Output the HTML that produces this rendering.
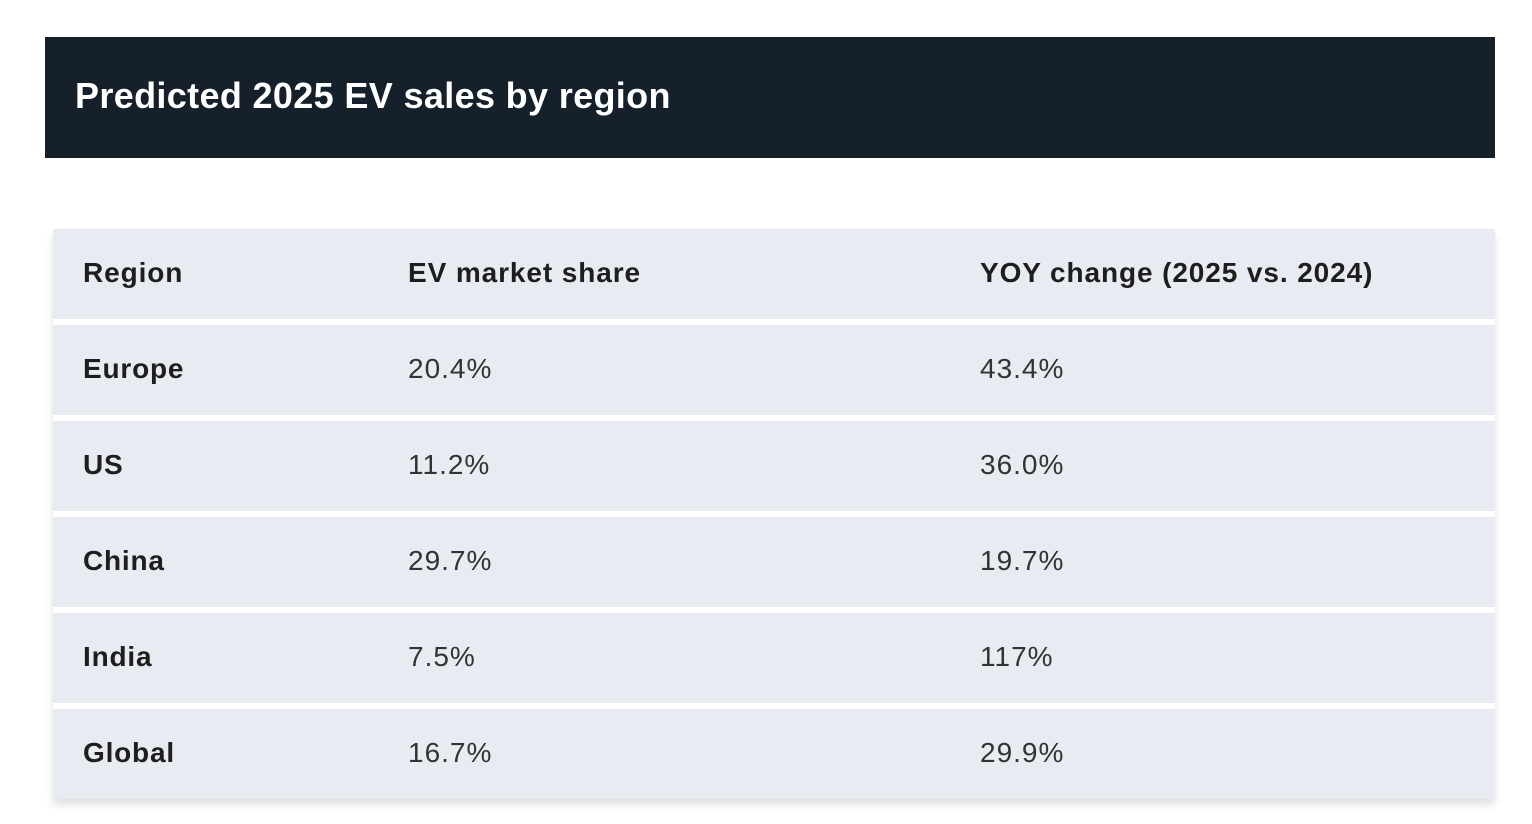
<!DOCTYPE html>
<html><head><style>
body{margin:0;width:1532px;height:824px;background:#fff;position:relative;overflow:hidden;font-family:"Liberation Sans",Arial,sans-serif}
.hd{position:absolute;left:45px;top:37px;width:1450px;height:121px;background:#15202b;}
.hd span{position:absolute;left:30px;top:38px;color:#fff;font-weight:bold;font-size:36px;letter-spacing:0.35px}
.tb{position:absolute;left:53px;top:229px;width:1442px;box-shadow:0 6px 8px rgba(0,0,0,0.12)}
.r{height:90px;background:#e8ebf2;position:relative;margin-bottom:6px;font-size:28px;color:#333;letter-spacing:1px}
.r:last-child{margin-bottom:0}
.r span{position:absolute;top:28px}
.c1{left:30px;font-weight:bold;color:#1e1e1e;letter-spacing:0.8px}
.c2{left:355px}.c3{left:927px}
.h span{font-weight:bold;color:#1e1e1e;letter-spacing:0.9px}
</style></head><body>
<div class="hd"><span>Predicted 2025 EV sales by region</span></div>
<div class="tb">
<div class="r h"><span class="c1">Region</span><span class="c2">EV market share</span><span class="c3">YOY change (2025 vs. 2024)</span></div>
<div class="r"><span class="c1">Europe</span><span class="c2">20.4%</span><span class="c3">43.4%</span></div>
<div class="r"><span class="c1">US</span><span class="c2">11.2%</span><span class="c3">36.0%</span></div>
<div class="r"><span class="c1">China</span><span class="c2">29.7%</span><span class="c3">19.7%</span></div>
<div class="r"><span class="c1">India</span><span class="c2">7.5%</span><span class="c3">117%</span></div>
<div class="r"><span class="c1">Global</span><span class="c2">16.7%</span><span class="c3">29.9%</span></div>
</div>
</body></html>
